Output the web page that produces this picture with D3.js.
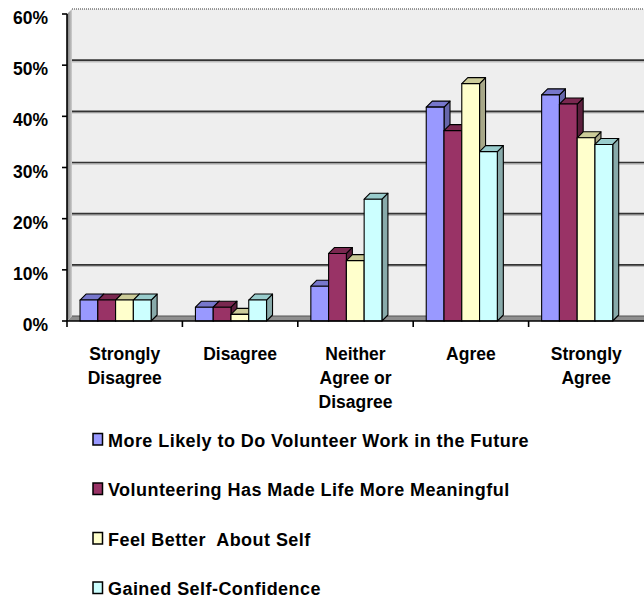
<!DOCTYPE html>
<html><head><meta charset="utf-8">
<script src="https://cdn.jsdelivr.net/npm/d3@7"></script>
<style>
html,body{margin:0;padding:0;background:#fff;}
svg text{font-family:"Liberation Sans",Arial,sans-serif;font-weight:bold;fill:#000;}
</style></head>
<body><svg id="chart" width="644" height="602"></svg>
<script>
const categories = ["Strongly Disagree","Disagree","Neither Agree or Disagree","Agree","Strongly Agree"];
const categoryLines = [["Strongly","Disagree"],["Disagree"],["Neither","Agree or","Disagree"],["Agree"],["Strongly","Agree"]];
const seriesNames = ["More Likely to Do Volunteer Work in the Future","Volunteering Has Made Life More Meaningful","Feel Better  About Self","Gained Self-Confidence"];
const moreLikely = [4.1, 2.7, 6.8, 41.8, 44.2];
const meaningful = [4.1, 2.7, 13.2, 37.2, 42.4];
const feelBetter = [4.1, 1.3, 11.8, 46.4, 35.8];
const confidence = [4.1, 4.1, 23.8, 33.1, 34.5];
const yTicks = [0,10,20,30,40,50,60];
const seriesValues = [moreLikely, meaningful, feelBetter, confidence];
const fronts = ["#9999FF","#993366","#FFFFCC","#CCFFFF"];
const tops   = ["#7777CC","#7a2850","#CCCC99","#99CCCC"];
const sides  = ["#6666AA","#5c1f3d","#A8A888","#88AAAA"];

(function(){
const svg = d3.select("#chart");
const pl = 67, pr = 644, pb = 321, pt = 14;
const wd = 5; // wall depth
const bd = 6; // bar depth
const x = d3.scaleBand().domain(categories).range([pl, pr]);
const y = d3.scaleLinear().domain([0,60]).range([pb, pt]);

// back wall
svg.append("rect").attr("x", pl+wd).attr("y", y(60)-wd).attr("width", pr-pl-wd).attr("height", y(0)-y(60))
  .attr("fill","#EEEEEE");
svg.append("line").attr("x1",pl+wd).attr("x2",pr).attr("y1",y(60)-wd).attr("y2",y(60)-wd)
  .attr("stroke","#777").attr("stroke-width",1.5).attr("stroke-dasharray","1,1");
// left wall
const lg = svg.append("defs").append("linearGradient").attr("id","lw").attr("x1","0").attr("x2","1");
lg.append("stop").attr("offset","0").attr("stop-color","#777");
lg.append("stop").attr("offset","1").attr("stop-color","#cfcfcf");
svg.append("path").attr("d",`M${pl},${y(0)}L${pl},${y(60)}L${pl+wd},${y(60)-wd}L${pl+wd},${y(0)-wd}Z`)
  .attr("fill","url(#lw)");
// gridlines
yTicks.filter(t=>t>0 && t<60).forEach(t=>{
  svg.append("line").attr("x1",pl+wd).attr("x2",pr).attr("y1",y(t)-wd+1.5).attr("y2",y(t)-wd+1.5)
    .attr("stroke","#bbb").attr("stroke-width",1.5);
  svg.append("line").attr("x1",pl+wd).attr("x2",pr).attr("y1",y(t)-wd).attr("y2",y(t)-wd)
    .attr("stroke","#333").attr("stroke-width",1.6);
});
// floor
svg.append("path").attr("d",`M${pl},${y(0)}L${pl+wd},${y(0)-wd}L${pr},${y(0)-wd}L${pr},${y(0)}Z`)
  .attr("fill","#8f8f8f");
svg.append("line").attr("x1",pl+wd).attr("x2",pr).attr("y1",y(0)-wd).attr("y2",y(0)-wd)
  .attr("stroke","#555").attr("stroke-width",1);

// bars
const bw = x.bandwidth()*0.154, off = x.bandwidth()*0.113;
categories.forEach((c,ci)=>{
  seriesValues.forEach((vals,si)=>{
    const v = vals[ci];
    const x0 = x(c) + off + si*bw, x1 = x0 + bw, yt = y(v), yb = y(0);
    const g = svg.append("g").attr("stroke","#000").attr("stroke-width",1.1).attr("stroke-linejoin","round");
    g.append("path").attr("d",`M${x1},${yb}L${x1},${yt}L${x1+bd},${yt-bd}L${x1+bd},${yb-bd}Z`).attr("fill",sides[si]);
    g.append("path").attr("d",`M${x0},${yt}L${x0+bd},${yt-bd}L${x1+bd},${yt-bd}L${x1},${yt}Z`).attr("fill",tops[si]);
    g.append("rect").attr("x",x0).attr("y",yt).attr("width",bw).attr("height",yb-yt).attr("fill",fronts[si]);
  });
});

// y axis
svg.append("line").attr("x1",pl).attr("x2",pl).attr("y1",y(60)).attr("y2",y(0)).attr("stroke","#000").attr("stroke-width",1.6);
yTicks.forEach(t=>{
  svg.append("line").attr("x1",pl-5).attr("x2",pl).attr("y1",y(t)).attr("y2",y(t)).attr("stroke","#000").attr("stroke-width",1.6);
  svg.append("text").attr("x",48).attr("y",y(t)+10).attr("text-anchor","end").attr("font-size",17.5).text(t+"%");
});
// x axis
svg.append("line").attr("x1",pl).attr("x2",pr).attr("y1",y(0)).attr("y2",y(0)).attr("stroke","#000").attr("stroke-width",1.6);
categories.forEach((c)=>{
  svg.append("line").attr("x1",x(c)).attr("x2",x(c)).attr("y1",y(0)).attr("y2",y(0)+6).attr("stroke","#000").attr("stroke-width",1.6);
});
categories.forEach((c,i)=>{
  const t = svg.append("text").attr("text-anchor","middle").attr("font-size",17.5);
  categoryLines[i].forEach((ln,li)=>{
    t.append("tspan").attr("x",x(c)+x.bandwidth()/2).attr("y",360+li*24).text(ln);
  });
});

// legend
seriesNames.forEach((n,i)=>{
  const yy = 446.5 + i*49.5;
  svg.append("rect").attr("x",93).attr("y",yy-13).attr("width",9.5).attr("height",11.5)
    .attr("fill",fronts[i]).attr("stroke","#000").attr("stroke-width",1.5);
  svg.append("text").attr("x",108).attr("y",yy).attr("font-size",18).attr("letter-spacing",0.45).style("white-space","pre").text(n);
});
})();
</script></body></html>
